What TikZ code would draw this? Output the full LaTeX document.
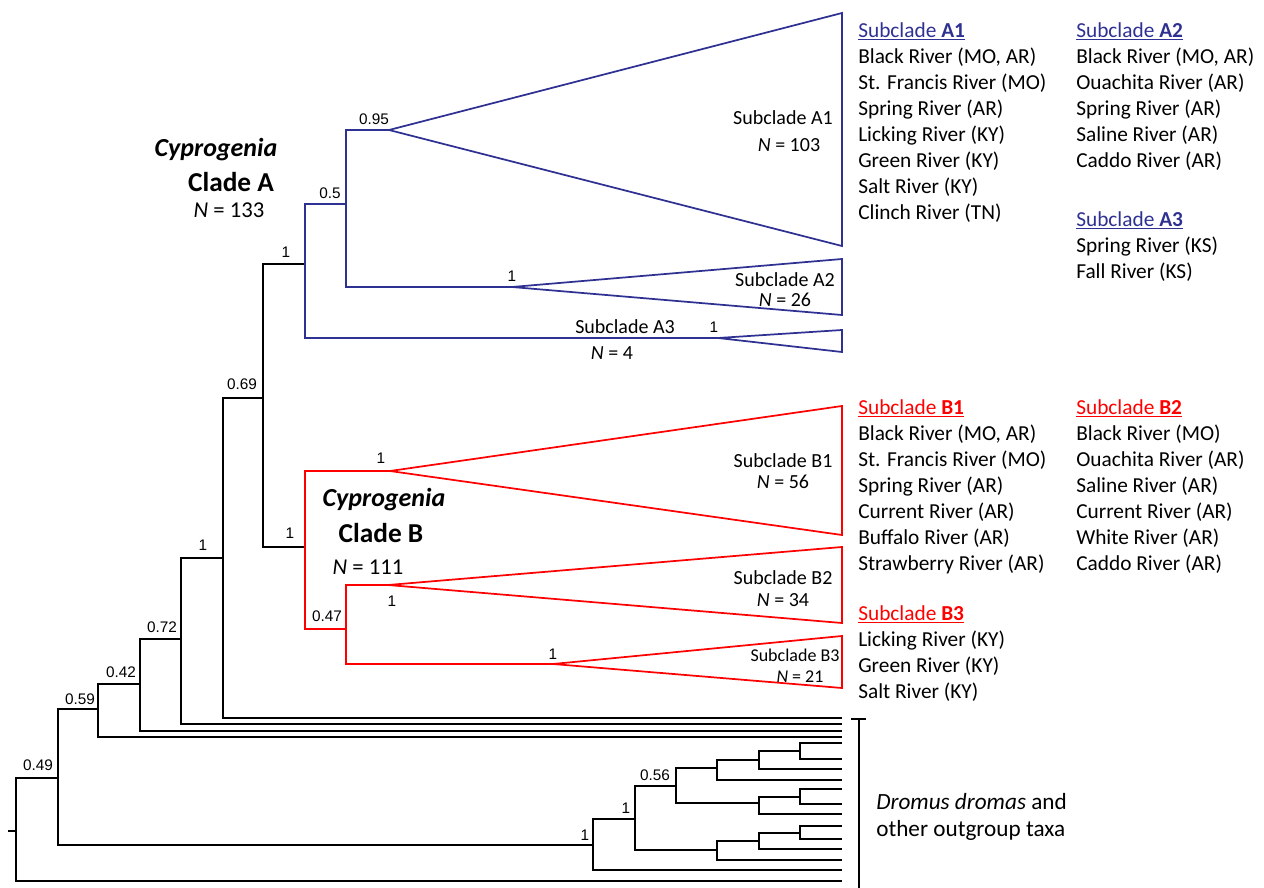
\documentclass[tikz,border=0pt]{standalone}
\usepackage{fontspec}
\setmainfont{Carlito}
\newfontfamily\arialfont{Liberation Sans}
\usepackage{xcolor}
\usetikzlibrary{positioning}
\definecolor{cladeA}{RGB}{46,49,146}
\definecolor{cladeB}{RGB}{255,0,0}

\begin{document}
\begin{tikzpicture}[
    x=0.75pt, y=-0.75pt,
    branch/.style={line width=1.3pt},
    tri/.style={line width=1.3pt, line join=miter},
    bs/.style={font=\arialfont\fontsize{11.5}{13}\selectfont, inner sep=0pt},
    sub/.style={font=\fontsize{15}{17}\selectfont, inner sep=0pt},
    subsm/.style={font=\fontsize{13.5}{15}\selectfont, inner sep=0pt},
    river/.style={font=\fontsize{16}{19.5}\selectfont, align=left, anchor=north west, inner sep=0pt},
    genus/.style={font=\bfseries\itshape\fontsize{19.5}{22}\selectfont, inner sep=0pt},
    clade/.style={font=\bfseries\fontsize{20.5}{22}\selectfont, inner sep=0pt},
    count/.style={font=\fontsize{17}{19}\selectfont, inner sep=0pt}
]
\useasboundingbox (0,0) rectangle (1264,888);

% ---- tree nodes ----
\coordinate (stub) at (8,831);
\coordinate (root) at (16,831);
\coordinate (n49) at (58,778);
\coordinate (n59) at (98,709);
\coordinate (n42) at (140,684);
\coordinate (n72) at (181,639);
\coordinate (n1) at (223,558);
\coordinate (n69) at (263,398);
\coordinate (cA) at (305,264);
\coordinate (cB) at (305,547);
\coordinate (a50) at (346,204);
\coordinate (a1) at (389,130);
\coordinate (a2) at (512,287);
\coordinate (a3) at (718,338);
\coordinate (b1) at (390,471);
\coordinate (b47) at (346,629);
\coordinate (b2) at (388,585);
\coordinate (b3) at (553,664);
% outgroup
\coordinate (o1) at (593,845);
\coordinate (o2) at (635,819);
\coordinate (o56) at (676,786);
\coordinate (o3) at (717,768);
\coordinate (o4) at (759,760);
\coordinate (o5) at (800,751);
\coordinate (o6) at (759,803);
\coordinate (o7) at (800,797);
\coordinate (o8) at (717,850);
\coordinate (o9) at (759,841);
\coordinate (o10) at (800,833);
% tips
\foreach \y [count=\i] in {718,724,731,737,743,759,769,780,789,804,814,826,839,849,860,870,881}
    \coordinate (t\i) at (842,\y);

% ---- black backbone ----
\draw[branch] (stub) -- (root);
\draw[branch] (root) |- (n49);  \draw[branch] (root) |- (t17);
\draw[branch] (n49) |- (n59);   \draw[branch] (n49) |- (o1);
\draw[branch] (n59) |- (n42);   \draw[branch] (n59) |- (t4);
\draw[branch] (n42) |- (n72);   \draw[branch] (n42) |- (t3);
\draw[branch] (n72) |- (n1);    \draw[branch] (n72) |- (t2);
\draw[branch] (n1) |- (n69);    \draw[branch] (n1) |- (t1);
\draw[branch] (n69) |- (cA);    \draw[branch] (n69) |- (cB);
% outgroup clade
\draw[branch] (o1) |- (o2);     \draw[branch] (o1) |- (t16);
\draw[branch] (o2) |- (o56);    \draw[branch] (o2) |- (o8);
\draw[branch] (o56) |- (o3);    \draw[branch] (o56) |- (o6);
\draw[branch] (o3) |- (o4);     \draw[branch] (o3) |- (t8);
\draw[branch] (o4) |- (o5);     \draw[branch] (o4) |- (t7);
\draw[branch] (o5) |- (t5);     \draw[branch] (o5) |- (t6);
\draw[branch] (o6) |- (o7);     \draw[branch] (o6) |- (t11);
\draw[branch] (o7) |- (t9);     \draw[branch] (o7) |- (t10);
\draw[branch] (o8) |- (o9);     \draw[branch] (o8) |- (t15);
\draw[branch] (o9) |- (o10);    \draw[branch] (o9) |- (t14);
\draw[branch] (o10) |- (t12);   \draw[branch] (o10) |- (t13);

% ---- clade A (blue) ----
\draw[branch, cladeA] (cA) |- (a50);  \draw[branch, cladeA] (cA) |- (a3);
\draw[branch, cladeA] (a50) |- (a1);  \draw[branch, cladeA] (a50) |- (a2);
\foreach \t/\top/\bot in {a1/13/246, a2/259/315, a3/330/352}
    \draw[tri, cladeA] (\t) -- (842,\top) -- (842,\bot) -- cycle;

% ---- clade B (red) ----
\draw[branch, cladeB] (cB) |- (b1);   \draw[branch, cladeB] (cB) |- (b47);
\draw[branch, cladeB] (b47) |- (b2);  \draw[branch, cladeB] (b47) |- (b3);
\foreach \t/\top/\bot in {b1/406/535, b2/547/623, b3/636/688}
    \draw[tri, cladeB] (\t) -- (842,\top) -- (842,\bot) -- cycle;

% ---- support values ----
\node[bs] (l49) at (38,765) {0.49};
\node[bs] (l59) at (80,699) {0.59};
\node[bs] (l42) at (121,672) {0.42};
\node[bs] (l72) at (162,627) {0.72};
\node[bs] (l1) at (203,545) {1};
\node[bs] (l69) at (242,384) {0.69};
\node[bs] (lcA) at (286,252) {1};
\node[bs] (lcB) at (290,533) {1};
\node[bs] (la50) at (330,193) {0.5};
\node[bs] (la1) at (374,119) {0.95};
\node[bs] (la2) at (512,276) {1};
\node[bs] (la3) at (714,327) {1};
\node[bs] (lb1) at (381,458) {1};
\node[bs] (lb47) at (327,616) {0.47};
\node[bs] (lb2) at (392,601) {1};
\node[bs] (lb3) at (553,654) {1};
\node[bs] (lo1) at (585,835) {1};
\node[bs] (lo2) at (626,808) {1};
\node[bs] (lo56) at (655,775) {0.56};

% ---- triangle labels ----
\node[sub] (sA1) at (783,118) {Subclade A1};
\node[sub] (nA1) at (789,145) {\textit{N} = 103};
\node[sub] (sA2) at (785,280) {Subclade A2};
\node[sub] (nA2) at (785,300) {\textit{N} = 26};
\node[sub, anchor=west] (sA3) at (575,327) {Subclade A3};
\node[sub] (nA3) at (612,353) {\textit{N} = 4};
\node[sub] (sB1) at (783,461) {Subclade B1};
\node[sub] (nB1) at (783,482) {\textit{N} = 56};
\node[sub] (sB2) at (783,578) {Subclade B2};
\node[sub] (nB2) at (783,600) {\textit{N} = 34};
\node[subsm] (sB3) at (795,655) {Subclade B3};
\node[subsm] (nB3) at (800,677) {\textit{N} = 21};

% ---- clade names ----
\node[genus] (gA) at (216,150) {Cyprogenia};
\node[clade] (kA) at (231,182) {Clade A};
\node[count] (cntA) at (229,210) {\textit{N} = 133};
\node[genus] (gB) at (384,500) {Cyprogenia};
\node[clade] (kB) at (381,533) {Clade B};
\node[count] (cntB) at (368,567) {\textit{N} = 111};

% ---- river lists ----
\node[river] (listA1) at (858,22) {\textcolor{cladeA}{\underline{Subclade \textbf{A1}}}\\
    Black River (MO, AR)\\St. Francis River (MO)\\Spring River (AR)\\Licking River (KY)\\
    Green River (KY)\\Salt River (KY)\\Clinch River (TN)};
\node[river] (listA2) at (1076,22) {\textcolor{cladeA}{\underline{Subclade \textbf{A2}}}\\
    Black River (MO, AR)\\Ouachita River (AR)\\Spring River (AR)\\Saline River (AR)\\
    Caddo River (AR)};
\node[river] (listA3) at (1076,211) {\textcolor{cladeA}{\underline{Subclade \textbf{A3}}}\\
    Spring River (KS)\\Fall River (KS)};
\node[river] (listB1) at (858,399) {\textcolor{cladeB}{\underline{Subclade \textbf{B1}}}\\
    Black River (MO, AR)\\St. Francis River (MO)\\Spring River (AR)\\Current River (AR)\\
    Buffalo River (AR)\\Strawberry River (AR)};
\node[river] (listB2) at (1076,399) {\textcolor{cladeB}{\underline{Subclade \textbf{B2}}}\\
    Black River (MO)\\Ouachita River (AR)\\Saline River (AR)\\Current River (AR)\\
    White River (AR)\\Caddo River (AR)};
\node[river] (listB3) at (858,605) {\textcolor{cladeB}{\underline{Subclade \textbf{B3}}}\\
    Licking River (KY)\\Green River (KY)\\Salt River (KY)};

% ---- outgroup bracket ----
\coordinate (brL) at (851,719);
\coordinate (brR) at (866,719);
\coordinate (brT) at (859,719);
\coordinate (brB) at (859,888);
\draw[line width=1.1pt] (brL) -- (brR);
\draw[line width=1.1pt] (brT) -- (brB);
\node[river, font=\fontsize{17.4}{20.2}\selectfont] (outg) at (876,793)
    {\textit{Dromus dromas} and\\other outgroup taxa};

\end{tikzpicture}
\end{document}
